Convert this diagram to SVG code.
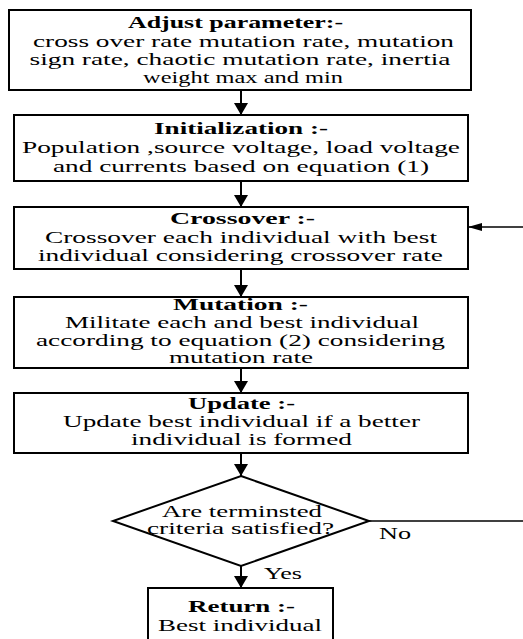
<svg xmlns="http://www.w3.org/2000/svg" width="523" height="639" viewBox="0 0 523 639">
  <style>
    .box { fill: #ffffff; stroke: #000000; stroke-width: 2; }
    .t { font-family: "Liberation Serif", "Times New Roman", serif; font-size: 17px; fill: #000000; }
    .b { font-weight: bold; }
    .line { stroke: #000000; fill: none; }
    .v { stroke-width: 2; }
    .h { stroke-width: 1.5; }
  </style>
  <defs>
    <marker id="arrV" markerUnits="userSpaceOnUse" viewBox="0 0 12 14" refX="12" refY="7" markerWidth="12" markerHeight="14" orient="auto">
      <path d="M0,0 L12,7 L0,14 z" fill="#000000"/>
    </marker>
    <marker id="arrH" markerUnits="userSpaceOnUse" viewBox="0 0 14 8" refX="14" refY="4" markerWidth="14" markerHeight="8" orient="auto">
      <path d="M0,0 L14,4 L0,8 z" fill="#000000"/>
    </marker>
  </defs>

  <g id="connectors">
    <line class="line v" x1="241" y1="90" x2="241" y2="115" marker-end="url(#arrV)"/>
    <line class="line v" x1="241" y1="181" x2="241" y2="207" marker-end="url(#arrV)"/>
    <line class="line v" x1="241" y1="269" x2="241" y2="297" marker-end="url(#arrV)"/>
    <line class="line v" x1="241" y1="368" x2="241" y2="393" marker-end="url(#arrV)"/>
    <line class="line v" x1="241" y1="453" x2="241" y2="476" marker-end="url(#arrV)"/>
    <line class="line v" x1="241" y1="566" x2="241" y2="588" marker-end="url(#arrV)"/>
    <line class="line h" x1="523" y1="227" x2="468" y2="227" marker-end="url(#arrH)"/>
    <line class="line h" x1="369" y1="521" x2="523" y2="521"/>
    <text class="t" x="379" y="539" textLength="32" lengthAdjust="spacingAndGlyphs">No</text>
    <text class="t" x="264" y="579" textLength="38" lengthAdjust="spacingAndGlyphs">Yes</text>
  </g>

  <g id="adjust">
    <rect class="box" x="9" y="10" width="462" height="80"/>
    <text class="t b" x="128" y="28" textLength="215" lengthAdjust="spacingAndGlyphs">Adjust parameter:-</text>
    <text class="t" x="33" y="46.5" textLength="421" lengthAdjust="spacingAndGlyphs">cross over rate mutation rate, mutation</text>
    <text class="t" x="29.5" y="65" textLength="421" lengthAdjust="spacingAndGlyphs">sign rate, chaotic mutation rate, inertia</text>
    <text class="t" x="143" y="83" textLength="200" lengthAdjust="spacingAndGlyphs">weight max and min</text>
  </g>

  <g id="initialization">
    <rect class="box" x="14" y="115" width="454" height="66"/>
    <text class="t b" x="154" y="134" textLength="174" lengthAdjust="spacingAndGlyphs">Initialization :-</text>
    <text class="t" x="22" y="153" textLength="438" lengthAdjust="spacingAndGlyphs">Population ,source voltage, load voltage</text>
    <text class="t" x="53" y="172" textLength="376" lengthAdjust="spacingAndGlyphs">and currents based on equation (1)</text>
  </g>

  <g id="crossover">
    <rect class="box" x="14" y="207" width="454" height="62"/>
    <text class="t b" x="170" y="224" textLength="145" lengthAdjust="spacingAndGlyphs">Crossover :-</text>
    <text class="t" x="45" y="242.5" textLength="392" lengthAdjust="spacingAndGlyphs">Crossover each individual with best</text>
    <text class="t" x="38" y="260.5" textLength="405" lengthAdjust="spacingAndGlyphs">individual considering crossover rate</text>
  </g>

  <g id="mutation">
    <rect class="box" x="14" y="297" width="454" height="71"/>
    <text class="t b" x="173" y="309.5" textLength="135" lengthAdjust="spacingAndGlyphs">Mutation :-</text>
    <text class="t" x="65" y="327.5" textLength="354" lengthAdjust="spacingAndGlyphs">Militate each and best individual</text>
    <text class="t" x="36" y="345.5" textLength="409" lengthAdjust="spacingAndGlyphs">according to equation (2) considering</text>
    <text class="t" x="169" y="363" textLength="144" lengthAdjust="spacingAndGlyphs">mutation rate</text>
  </g>

  <g id="update">
    <rect class="box" x="14" y="393" width="454" height="60"/>
    <text class="t b" x="188" y="408.5" textLength="107" lengthAdjust="spacingAndGlyphs">Update :-</text>
    <text class="t" x="63" y="427" textLength="357" lengthAdjust="spacingAndGlyphs">Update best individual if a better</text>
    <text class="t" x="131" y="445" textLength="221" lengthAdjust="spacingAndGlyphs">individual is formed</text>
  </g>

  <g id="decision">
    <polygon class="box" points="241,476 369,521 241,566 113,521"/>
    <text class="t" x="162" y="516.5" textLength="160" lengthAdjust="spacingAndGlyphs">Are terminsted</text>
    <text class="t" x="147" y="534" textLength="187" lengthAdjust="spacingAndGlyphs">criteria satisfied?</text>
  </g>

  <g id="return">
    <rect class="box" x="148" y="588" width="185" height="62"/>
    <text class="t b" x="188" y="611.5" textLength="107" lengthAdjust="spacingAndGlyphs">Return :-</text>
    <text class="t" x="158" y="631" textLength="164" lengthAdjust="spacingAndGlyphs">Best individual</text>
  </g>
</svg>
